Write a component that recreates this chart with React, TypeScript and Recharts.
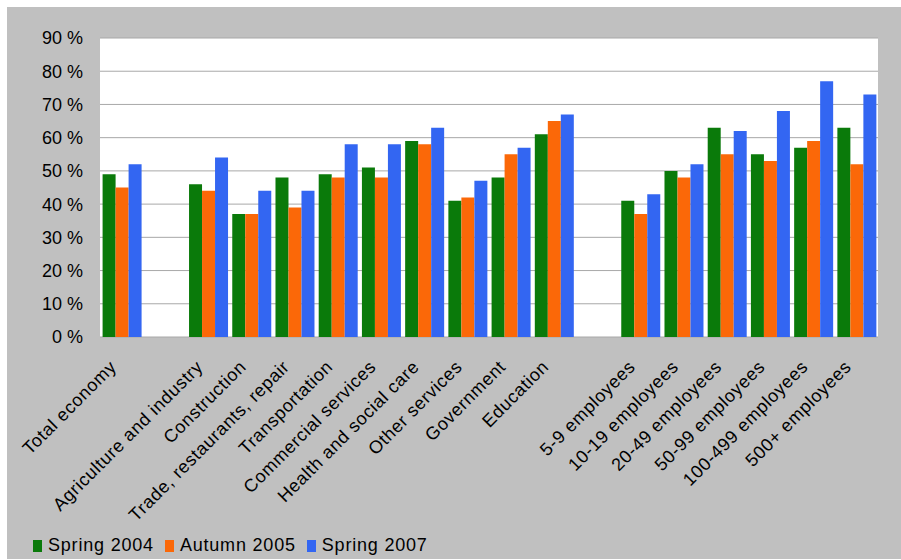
import React from "react";
import {
  BarChart,
  Bar,
  XAxis,
  YAxis,
  CartesianGrid,
  Legend,
} from "recharts";

// empty strings are spacer slots between the groups of categories
const categories = [
  "Total economy",
  "",
  "Agriculture and industry",
  "Construction",
  "Trade, restaurants, repair",
  "Transportation",
  "Commercial services",
  "Health and social care",
  "Other services",
  "Government",
  "Education",
  "",
  "5-9 employees",
  "10-19 employees",
  "20-49 employees",
  "50-99 employees",
  "100-499 employees",
  "500+ employees",
];

const spring2004 = [49, null, 46, 37, 48, 49, 51, 59, 41, 48, 61, null, 41, 50, 63, 55, 57, 63];
const autumn2005 = [45, null, 44, 37, 39, 48, 48, 58, 42, 55, 65, null, 37, 48, 55, 53, 59, 52];
const spring2007 = [52, null, 54, 44, 44, 58, 58, 63, 47, 57, 67, null, 43, 52, 62, 68, 77, 73];

const yTicks = [0, 10, 20, 30, 40, 50, 60, 70, 80, 90];

const series = [
  { key: "s2004", name: "Spring 2004", values: spring2004, color: "#0a7a0a" },
  { key: "a2005", name: "Autumn 2005", values: autumn2005, color: "#fb6808" },
  { key: "s2007", name: "Spring 2007", values: spring2007, color: "#3366f2" },
];

const data = categories.map((name, i) => {
  const row: Record<string, string | number | null> = { name };
  series.forEach((s) => {
    row[s.key] = s.values[i];
  });
  return row;
});

const FONT = "Arial, 'Liberation Sans', sans-serif";

const SlantedTick = (props: any) => {
  const { x, y, payload } = props;
  return (
    <g transform={`translate(${x - 4},${y + 29})`}>
      <text
        transform="rotate(-45)"
        textAnchor="end"
        fontFamily={FONT}
        fontSize={18}
        letterSpacing={0.6}
        fill="#000"
      >
        {payload.value}
      </text>
    </g>
  );
};

const LegendRow = () => (
  <div
    style={{
      display: "flex",
      alignItems: "center",
      height: 27,
      paddingLeft: 26,
      fontFamily: FONT,
      fontSize: 18,
      letterSpacing: 0.8,
      color: "#000",
    }}
  >
    {series.map((s) => (
      <div key={s.key} style={{ display: "flex", alignItems: "center", marginRight: 11 }}>
        <span
          style={{ width: 9, height: 12, background: s.color, marginRight: 6, display: "inline-block" }}
        />
        <span>{s.name}</span>
      </div>
    ))}
  </div>
);

export default function App() {
  return (
    <div
      style={{
        position: "fixed",
        top: 7,
        left: 7,
        width: 894,
        height: 552,
        background: "#c0c0c0",
      }}
    >
      <BarChart
        width={894}
        height={552}
        data={data}
        margin={{ top: 31, right: 23, left: 0, bottom: 0 }}
        barCategoryGap="6%"
        barGap={0}
      >
        <CartesianGrid vertical={false} fill="#ffffff" stroke="#a8a8a8" />
        <XAxis
          dataKey="name"
          height={195}
          interval={0}
          tickLine={false}
          axisLine={false}
          tickSize={0}
          tick={<SlantedTick />}
        />
        <YAxis
          width={93}
          domain={[0, 90]}
          ticks={yTicks}
          tickFormatter={(v) => `${v} %`}
          tickLine={false}
          axisLine={false}
          tickSize={0}
          tickMargin={17}
          tick={{ fill: "#000", fontSize: 18, fontFamily: FONT }}
        />
        <Legend
          verticalAlign="bottom"
          align="left"
          content={() => <LegendRow />}
        />
        {series.map((s) => (
          <Bar
            key={s.key}
            dataKey={s.key}
            name={s.name}
            fill={s.color}
            isAnimationActive={false}
          />
        ))}
      </BarChart>
    </div>
  );
}
